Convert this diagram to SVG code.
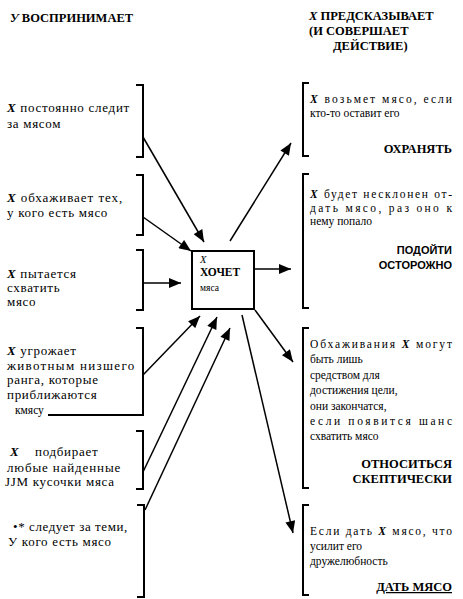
<svg xmlns="http://www.w3.org/2000/svg" width="463" height="599" viewBox="0 0 463 599">
<defs>
<marker id="ah" viewBox="0 0 12 10" refX="12" refY="5" markerWidth="13" markerHeight="10" orient="auto" markerUnits="userSpaceOnUse">
<path d="M0,0 L12,5 L0,10 z" fill="#000"/>
</marker>
<style>
text{font-family:"Liberation Serif","Times New Roman",serif;fill:#000}
.l{font-size:13px;letter-spacing:0.7px}
.t{font-size:11.5px}
.e{font-size:11.5px;text-anchor:end}
.h{font-size:12.5px;font-weight:bold}
.lab{font-size:12.5px;font-weight:bold;text-anchor:end}
.sans{font-family:"Liberation Sans",Arial,sans-serif;font-size:11px;font-weight:bold;text-anchor:end}
.x{font-weight:bold;font-style:italic}
.br{fill:none;stroke:#000;stroke-width:2}
.ar{fill:none;stroke:#000;stroke-width:1.5;marker-end:url(#ah)}
</style>
</defs>
<rect width="463" height="599" fill="#fff"/>

<g id="headers">
<text class="h" x="10" y="22"><tspan font-style="italic">У</tspan> ВОСПРИНИМАЕТ</text>
<text class="h" x="309" y="20"><tspan font-style="italic">X</tspan>  ПРЕДСКАЗЫВАЕТ</text>
<text class="h" x="309" y="35">(И СОВЕРШАЕТ</text>
<text class="h" x="333" y="50">ДЕЙСТВИЕ)</text>
</g>

<g id="in1">
<path class="br" d="M136,85 H143 V157 H136"/>
<text class="l" x="7" y="112" textLength="123" lengthAdjust="spacing"><tspan class="x">X</tspan> постоянно следит</text>
<text class="l" x="7" y="128">за мясом</text>
</g>
<g id="in2">
<path class="br" d="M136,175 H143 V235 H136"/>
<text class="l" x="7" y="202" textLength="116" lengthAdjust="spacing"><tspan class="x">X</tspan> обхаживает тех,</text>
<text class="l" x="7" y="217">у кого есть мясо</text>
</g>
<g id="in3">
<path class="br" d="M136,250 H143 V310 H136"/>
<text class="l" x="7" y="278"><tspan class="x">X</tspan> пытается</text>
<text class="l" x="7" y="292">схватить</text>
<text class="l" x="7" y="306">мясо</text>
</g>
<g id="in4">
<path class="br" d="M136,328 H143 V415 H48"/>
<text class="l" x="7" y="355"><tspan class="x">X</tspan> угрожает</text>
<text class="l" x="7" y="370" textLength="128" lengthAdjust="spacing">животным низшего</text>
<text class="l" x="7" y="384">ранга, которые</text>
<text class="l" x="7" y="399">приближаются</text>
<text class="t" x="15" y="414">кмясу</text>
</g>
<g id="in5">
<path class="br" d="M136,431 H143 V489 H136"/>
<text class="l" y="456"><tspan class="x" x="10">X</tspan><tspan x="35">подбирает</tspan></text>
<text class="l" x="7" y="472" textLength="114" lengthAdjust="spacing">любые найденные</text>
<text class="l" x="5" y="486">JJM кусочки мяса</text>
</g>
<g id="in6">
<path class="br" d="M137,505 H144 V597 H137"/>
<text class="l" x="13" y="531" textLength="115" lengthAdjust="spacing">•* следует за теми,</text>
<text class="l" x="8" y="546">У кого есть мясо</text>
</g>

<g id="center">
<rect x="192" y="251" width="62" height="58" fill="#fff" stroke="#000" stroke-width="2"/>
<text x="200" y="263" font-size="10.5" font-style="italic">X</text>
<text x="200" y="276" font-size="11.5" font-weight="bold">ХОЧЕТ</text>
<text x="200" y="291" font-size="9.5">мяса</text>
</g>

<g id="out1">
<path class="br" d="M309,83 H303 V156 H309"/>
<text class="t" x="310" y="103" textLength="142" lengthAdjust="spacing"><tspan class="x">X</tspan> возьмет мясо, если</text>
<text class="t" x="310" y="117">кто-то оставит его</text>
<text class="lab" x="452" y="153">ОХРАНЯТЬ</text>
</g>
<g id="out2">
<path class="br" d="M309,174 H303 V308 H309"/>
<text class="t" x="310" y="198" textLength="142" lengthAdjust="spacing"><tspan class="x">X</tspan> будет несклонен от-</text>
<text class="t" x="310" y="212" textLength="142" lengthAdjust="spacing">дать мясо, раз оно к</text>
<text class="t" x="310" y="225">нему попало</text>
<text class="sans" x="452" y="254">ПОДОЙТИ</text>
<text class="sans" x="452" y="269">ОСТОРОЖНО</text>
</g>
<g id="out3">
<path class="br" d="M309,328 H303 V488 H309"/>
<text class="t" x="310" y="348" textLength="142" lengthAdjust="spacing">Обхаживания <tspan class="x">X</tspan> могут</text>
<text class="t" x="310" y="363">быть лишь</text>
<text class="t" x="310" y="379">средством для</text>
<text class="t" x="310" y="394">достижения цели,</text>
<text class="t" x="310" y="410">они закончатся,</text>
<text class="t" x="310" y="425" textLength="142" lengthAdjust="spacing">если появится шанс</text>
<text class="t" x="310" y="440">схватить мясо</text>
<text class="lab" x="452" y="468">ОТНОСИТЬСЯ</text>
<text class="lab" x="452" y="483">СКЕПТИЧЕСКИ</text>
</g>
<g id="out4">
<path class="br" d="M309,505 H303 V595 H309"/>
<text class="t" x="310" y="535" textLength="142" lengthAdjust="spacing">Если дать <tspan class="x">X</tspan> мясо, что</text>
<text class="t" x="310" y="550">усилит его</text>
<text class="t" x="310" y="565">дружелюбность</text>
<text class="lab" x="452" y="591" text-decoration="underline">ДАТЬ МЯСО</text>
</g>

<g id="connectors">
<line class="ar" x1="143" y1="137" x2="204" y2="242"/>
<line class="ar" x1="143" y1="217" x2="191" y2="251"/>
<line class="ar" x1="143" y1="283" x2="181" y2="283"/>
<line class="ar" x1="254" y1="269" x2="291" y2="269" stroke-width="3"/>
<line class="ar" x1="230" y1="241" x2="291" y2="143"/>
<line class="ar" x1="143" y1="375" x2="200" y2="316"/>
<line class="ar" x1="143" y1="472" x2="217" y2="317"/>
<line class="ar" x1="145" y1="510" x2="230" y2="328"/>
<line class="ar" x1="255" y1="310" x2="293" y2="362"/>
<line class="ar" x1="242" y1="315" x2="293" y2="533"/>
</g>
</svg>
